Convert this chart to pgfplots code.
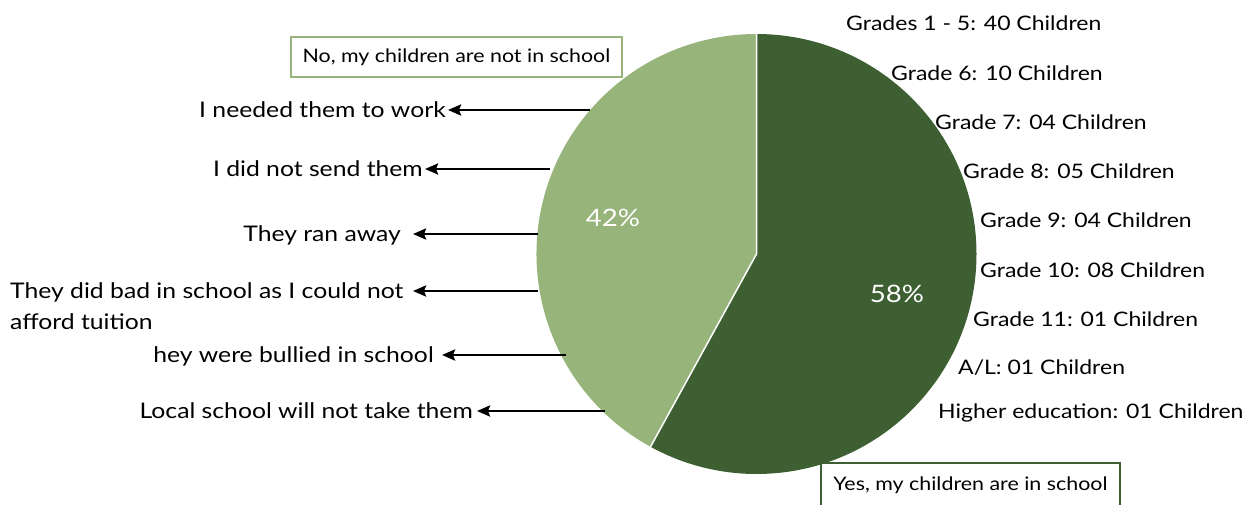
\documentclass[border=0pt]{standalone}
\usepackage{fontspec}
\setmainfont{Lato}[FakeStretch=1.15]
\usepackage{pgfplots}
\pgfplotsset{compat=1.18}
\usetikzlibrary{arrows.meta}
\definecolor{darkg}{RGB}{61,95,50}
\definecolor{lightg}{RGB}{151,180,123}
\def\valYes{58}
\def\valNo{42}
\pgfmathsetmacro\angA{90-3.6*\valYes}
\pgfmathsetmacro\angB{\angA-3.6*\valNo}
\begin{document}
\begin{tikzpicture}
\begin{axis}[width=1248pt,height=504pt,scale only axis,
  xmin=0,xmax=1248,ymin=0,ymax=504,hide axis,clip=false]
% pie
\fill[darkg] (axis cs:756.5,250) -- ++(90:220pt) arc[start angle=90,end angle=\angA,radius=220pt] -- cycle;
\fill[lightg] (axis cs:756.5,250) -- ++(\angA:220pt) arc[start angle=\angA,end angle=\angB,radius=220pt] -- cycle;
\draw[white,line width=1.5pt] (axis cs:756.5,250) ++(90:220pt) -- (axis cs:756.5,250) -- ++(\angA:220pt);
\node[white,font=\fontsize{24}{28}\selectfont] at (axis cs:897,210) {\valYes\%};
\node[white,font=\fontsize{24}{28}\selectfont] at (axis cs:613,286) {\valNo\%};
% left annotations
\begin{scope}[every node/.style={font=\fontsize{21.5}{25}\selectfont,inner sep=0pt}]
\node[anchor=mid east] at (axis cs:446,389) {I needed them to work};
\node[anchor=mid east] at (axis cs:423,330) {I did not send them};
\node[anchor=mid east] at (axis cs:401,265) {They ran away};
\node[anchor=mid west] at (axis cs:10,208) {They did bad in school as I could not};
\node[anchor=mid west] at (axis cs:10,177) {afford tuition};
\node[anchor=mid east] at (axis cs:434,144) {hey were bullied in school};
\node[anchor=mid east] at (axis cs:473,88) {Local school will not take them};
\end{scope}
% right annotations
\begin{scope}[every node/.style={font=\fontsize{20}{24}\selectfont,inner sep=0pt}]
\node[anchor=mid west] at (axis cs:846,476) {Grades 1 - 5: 40 Children};
\node[anchor=mid west] at (axis cs:891,426) {Grade 6: 10 Children};
\node[anchor=mid west] at (axis cs:935,377) {Grade 7: 04 Children};
\node[anchor=mid west] at (axis cs:963,328) {Grade 8: 05 Children};
\node[anchor=mid west] at (axis cs:980,279) {Grade 9: 04 Children};
\node[anchor=mid west] at (axis cs:980,229) {Grade 10: 08 Children};
\node[anchor=mid west] at (axis cs:973,180) {Grade 11: 01 Children};
\node[anchor=mid west] at (axis cs:958,132) {A/L: 01 Children};
\node[anchor=mid west] at (axis cs:938,88) {Higher education: 01 Children};
\end{scope}
% arrows
\begin{scope}[line width=2.5pt,-{Stealth[length=13pt,width=11pt,inset=2pt]}]
\draw (axis cs:590,394) -- (axis cs:448,394);
\draw (axis cs:550,335) -- (axis cs:425,335);
\draw (axis cs:538,270) -- (axis cs:413,270);
\draw (axis cs:538,213) -- (axis cs:413,213);
\draw (axis cs:566,149) -- (axis cs:442,149);
\draw (axis cs:605,93) -- (axis cs:477,93);
\end{scope}
% boxes
\node[draw=lightg,line width=2.5pt,fill=white,minimum width=331pt,minimum height=40pt,inner sep=0pt,font=\fontsize{18.6}{22}\selectfont] at (axis cs:456.5,447) {\raisebox{-2pt}{No, my children are not in school}};
\node[draw=darkg,line width=2.5pt,fill=white,minimum width=299pt,minimum height=44pt,inner sep=0pt,font=\fontsize{18.6}{22}\selectfont] at (axis cs:970.5,19) {Yes, my children are in school};
\end{axis}
\pgfresetboundingbox
\useasboundingbox (0,0) rectangle (1248pt,504pt);
\end{tikzpicture}
\end{document}
